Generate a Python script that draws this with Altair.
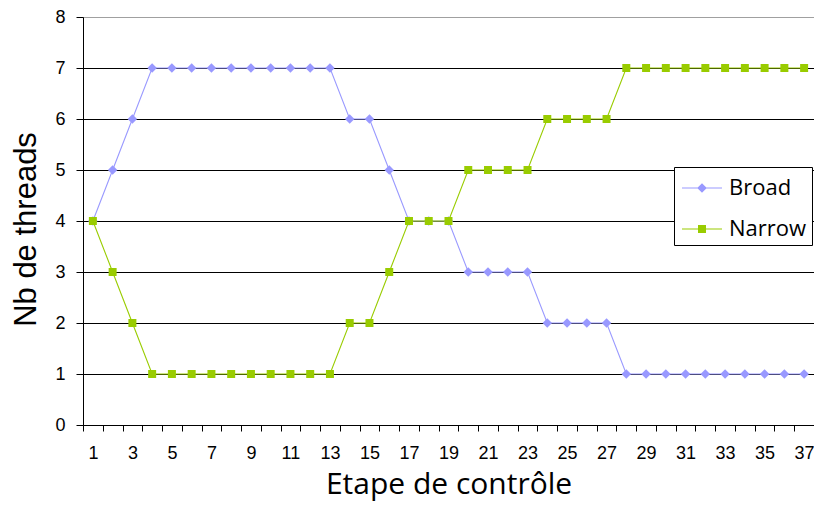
import altair as alt
import pandas as pd

steps = list(range(1, 38))
broad = [4, 5, 6, 7, 7, 7, 7, 7, 7, 7, 7, 7, 7, 6, 6, 5, 4, 4, 4, 3, 3, 3, 3,
         2, 2, 2, 2, 1, 1, 1, 1, 1, 1, 1, 1, 1, 1]
narrow = [4, 3, 2, 1, 1, 1, 1, 1, 1, 1, 1, 1, 1, 2, 2, 3, 4, 4, 4, 5, 5, 5, 5,
          6, 6, 6, 6, 7, 7, 7, 7, 7, 7, 7, 7, 7, 7]
series_names = ["Broad", "Narrow"]
series_colors = ["#9999FF", "#99CC00"]
y_ticks = [0, 1, 2, 3, 4, 5, 6, 7, 8]

df = pd.DataFrame({
    "step": steps * 2,
    "value": broad + narrow,
    "series": ["Broad"] * len(steps) + ["Narrow"] * len(steps),
})


def cscale():
    return alt.Scale(domain=series_names, range=series_colors)


x_enc = alt.X(
    "step:O",
    scale=alt.Scale(paddingInner=0, paddingOuter=0),
    axis=alt.Axis(
        title="Etape de contrôle",
        labelExpr="datum.value % 2 == 1 ? datum.label : ''",
        labelAngle=0,
        tickBand="extent",
        tickSize=6,
        tickColor="black",
        domainColor="black",
        labelFont="Liberation Sans",
        labelFontSize=18,
        labelColor="black",
        labelPadding=13,
        titleFont="Open Sans",
        titleFontSize=30,
        titleFontWeight="normal",
        titleColor="black",
        titlePadding=7,
        grid=False,
    ),
)
y_enc = alt.Y(
    "value:Q",
    scale=alt.Scale(domain=[0, 8], nice=False),
    axis=alt.Axis(
        title="Nb de threads",
        values=y_ticks,
        tickSize=7,
        tickColor="black",
        domainColor="black",
        labelFont="Liberation Sans",
        labelFontSize=18,
        labelColor="black",
        labelPadding=11,
        titleFont="Liberation Sans",
        titleFontSize=31,
        titleFontWeight="normal",
        titleColor="black",
        titlePadding=12,
        titleY=212,
        grid=True,
        gridColor={"condition": {"test": "datum.value >= 8", "value": "#a0a0a0"},
                   "value": "black"},
        gridWidth=1,
    ),
)

base = alt.Chart(df).encode(x=x_enc, y=y_enc)


def series_layers(name, shape, size):
    sub = base.transform_filter(alt.datum.series == name)
    line = sub.mark_line(strokeWidth=1.1).encode(
        color=alt.Color("series:N", scale=cscale(), legend=None))
    pts = sub.mark_point(filled=True, shape=shape, size=size, opacity=1).encode(
        color=alt.Color("series:N", scale=cscale(), legend=None))
    return [line, pts]


broad_path = "M-1.25,-0.035H1.25V0.035H-1.25Z M0,-0.3L0.3,0L0,0.3L-0.3,0Z"
square_path = "M-1.25,-0.035H1.25V0.035H-1.25Z M-0.25,-0.25H0.25V0.25H-0.25Z"

legend_layer = alt.Chart(df).transform_filter("false").mark_point(
    filled=True, opacity=1
).encode(
    color=alt.Color("series:N", scale=cscale(), legend=alt.Legend(title=None)),
    shape=alt.Shape("series:N", scale=alt.Scale(domain=series_names,
                                                range=[broad_path, square_path]),
                    legend=alt.Legend(title=None)),
)

layers = (series_layers("Broad", "diamond", 90)
          + series_layers("Narrow", "square", 64)
          + [legend_layer])

chart = alt.layer(*layers).resolve_scale(
    shape="independent", color="independent"
).properties(
    width=731,
    height=408,
    padding={"left": 75, "top": 9, "right": 0, "bottom": 78},
    autosize=alt.AutoSizeParams(type="none"),
).configure_view(
    stroke="#a0a0a0", strokeWidth=1
).configure_legend(
    orient="none",
    legendX=591,
    legendY=150,
    fillColor="white",
    strokeColor="black",
    padding=5,
    symbolOffset=7,
    symbolSize=1024,
    symbolStrokeWidth=0,
    symbolOpacity=1,
    labelFont="Open Sans",
    labelFontSize=22,
    labelColor="black",
    labelOffset=11,
    rowPadding=14,
    cornerRadius=0,
)

chart.save("out.html", embed_options={"renderer": "svg", "actions": False})
